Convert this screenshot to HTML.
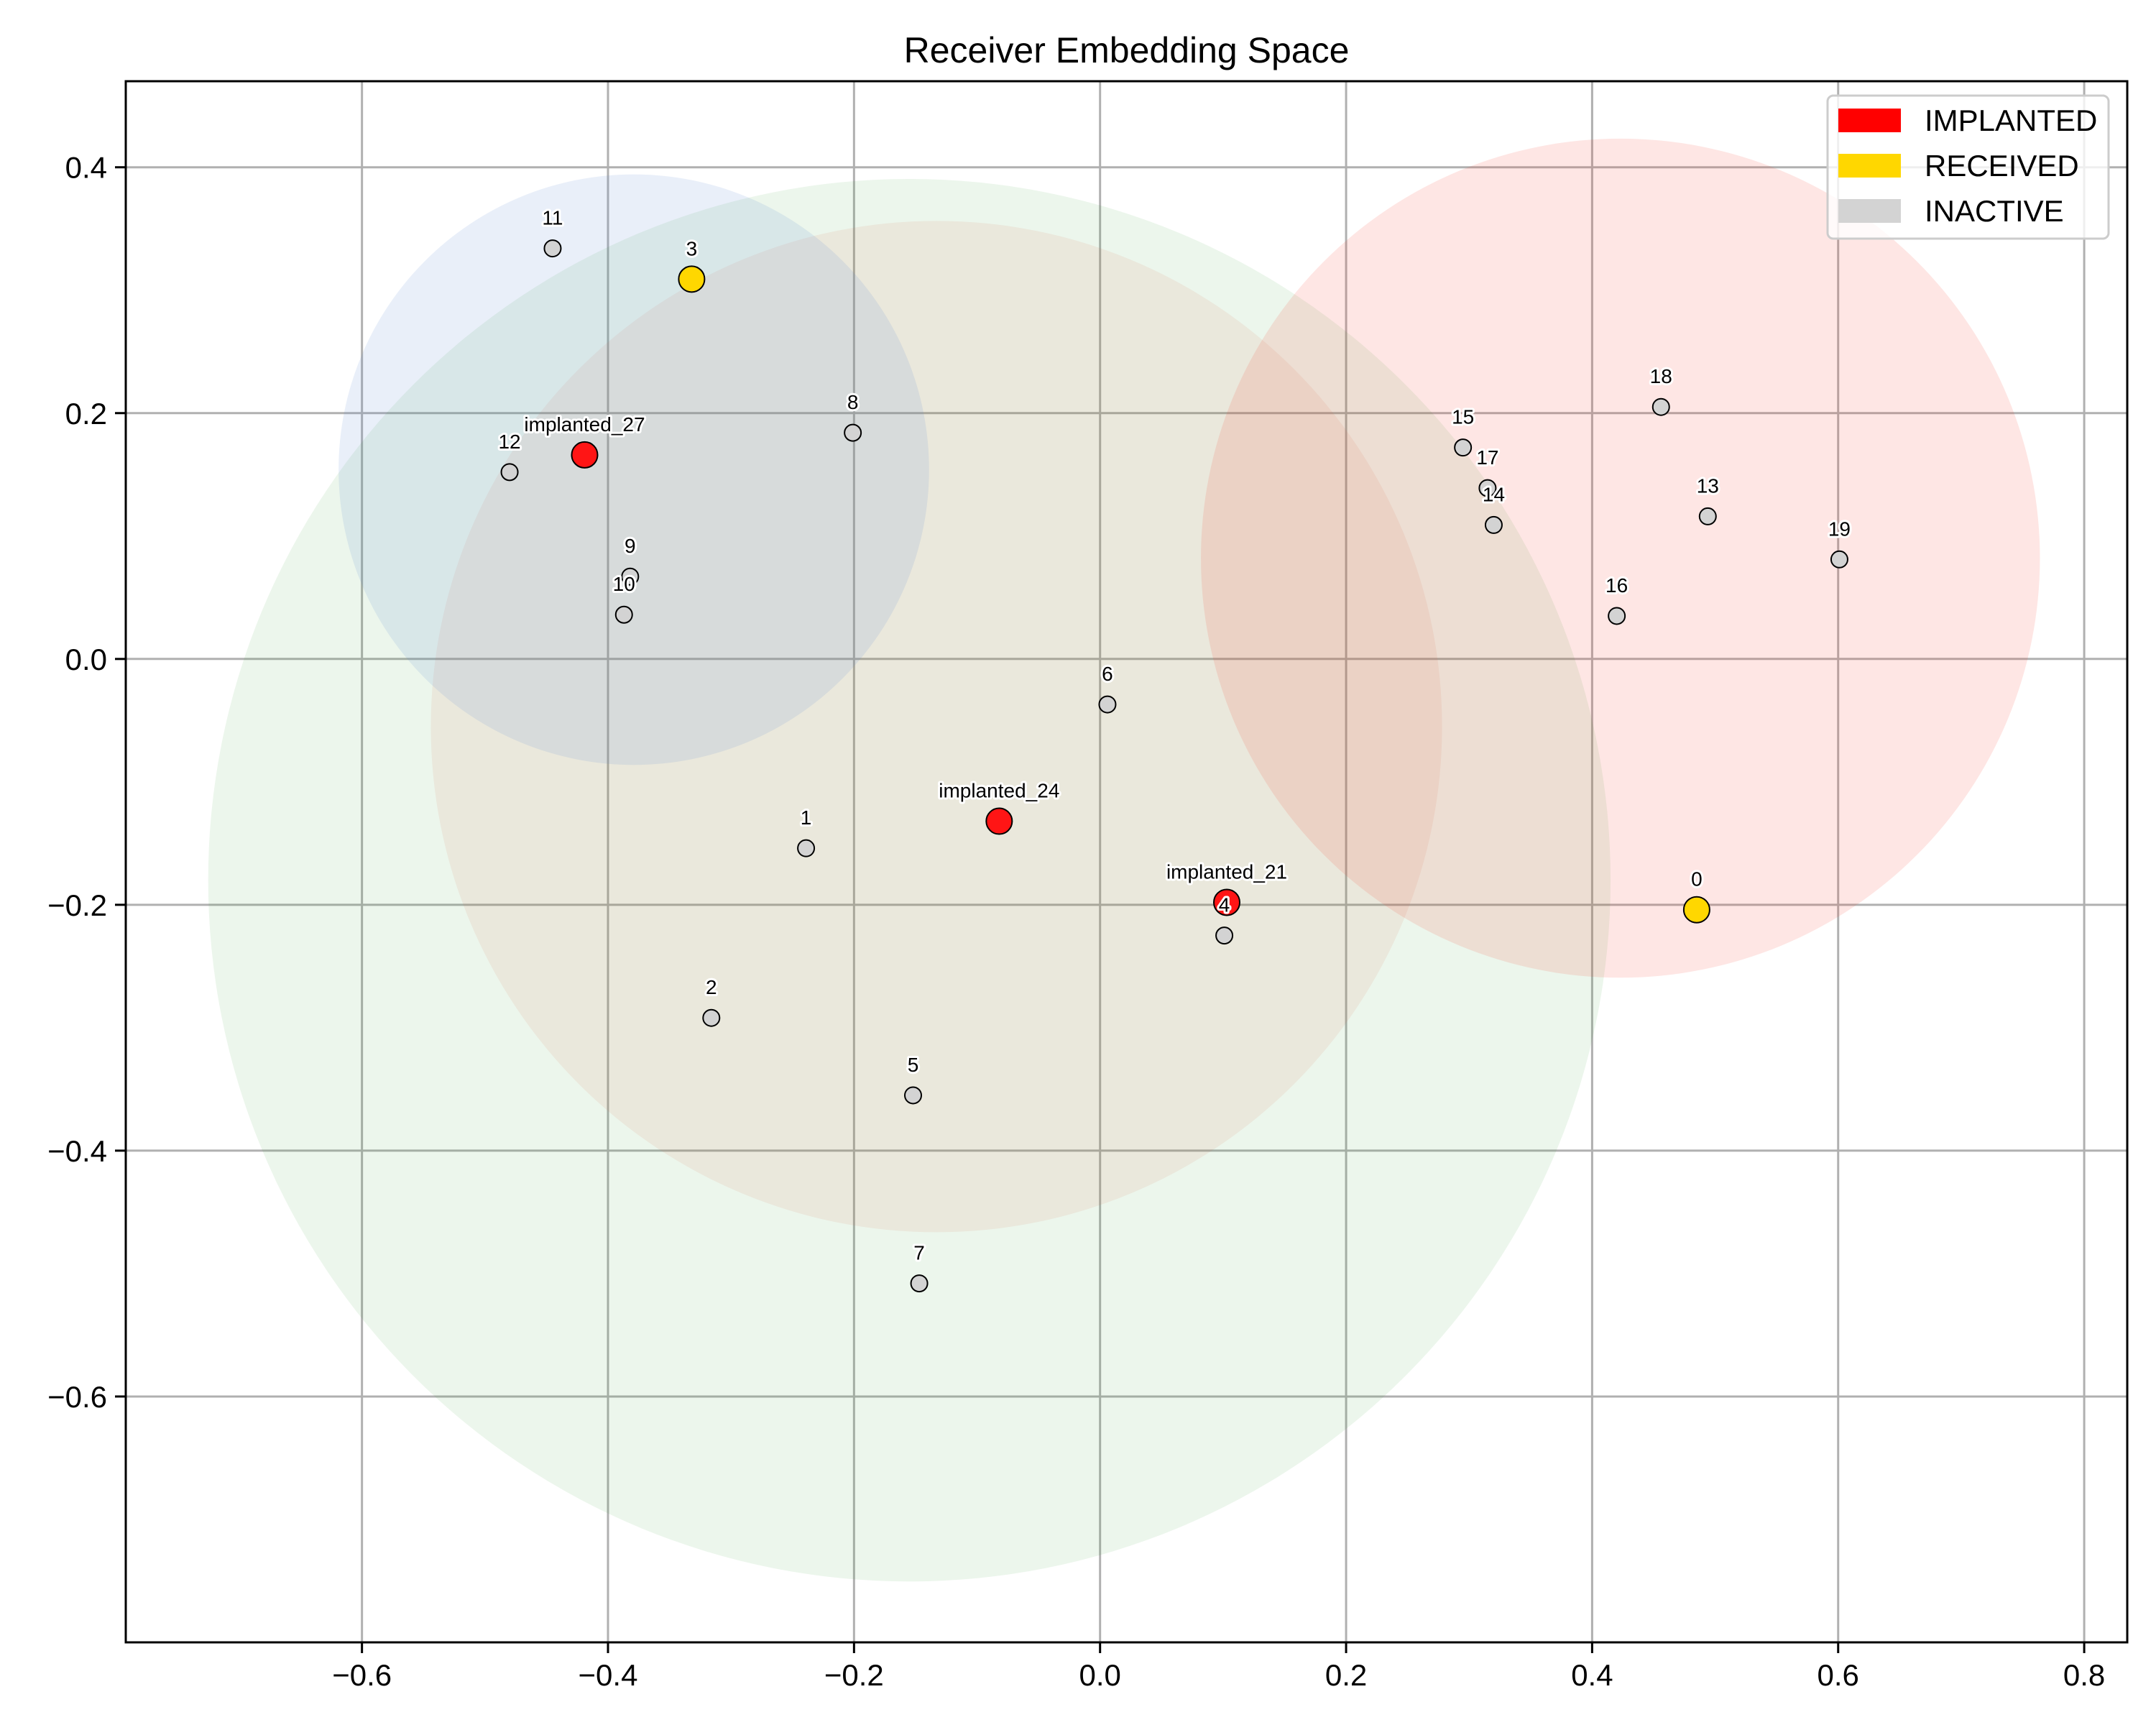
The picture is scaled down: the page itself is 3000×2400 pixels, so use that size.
<!DOCTYPE html>
<html><head><meta charset="utf-8"><style>
html,body{margin:0;padding:0;background:#fff;}
svg{display:block;font-family:"Liberation Sans","DejaVu Sans",sans-serif;}
.lbl{font-size:28px;text-anchor:middle;fill:#000;stroke:#fff;stroke-width:6px;paint-order:stroke;stroke-linejoin:round;}
</style></head><body>
<svg id="chart" width="3000" height="2400" viewBox="0 0 3000 2400"></svg>
<script>
const xTicks=[-0.6,-0.4,-0.2,0.0,0.2,0.4,0.6,0.8];
const yTicks=[0.4,0.2,0.0,-0.2,-0.4,-0.6];
const xTickLabels=["\u22120.6","\u22120.4","\u22120.2","0.0","0.2","0.4","0.6","0.8"];
const yTickLabels=["0.4","0.2","0.0","\u22120.2","\u22120.4","\u22120.6"];
const circleX=[-0.155,-0.133,-0.379,0.423];
const circleY=[-0.180,-0.055,0.154,0.082];
const circleR=[0.570,0.411,0.240,0.341];
const circleFill=["rgba(44,160,44,0.09)","rgba(215,105,75,0.10)","rgba(100,140,210,0.14)","rgba(245,60,50,0.13)"];
const pointNames=["11","3","8","implanted_27","12","9","10","6","1","implanted_24","implanted_21","4","2","5","7","15","17","14","18","13","19","16","0"];
const pointX=[-0.445,-0.332,-0.201,-0.419,-0.480,-0.382,-0.387,0.006,-0.239,-0.082,0.103,0.101,-0.316,-0.152,-0.147,0.295,0.315,0.320,0.456,0.494,0.601,0.420,0.485];
const pointY=[0.334,0.309,0.184,0.166,0.152,0.067,0.036,-0.037,-0.154,-0.132,-0.198,-0.225,-0.292,-0.355,-0.508,0.172,0.139,0.109,0.205,0.116,0.081,0.035,-0.204];
const pointType=["I","R","I","P","I","I","I","I","I","P","P","I","I","I","I","I","I","I","I","I","I","I","R"];

const L=175,R=2960,T=113,B=2285;
const xMin=-0.792,xMax=0.835,yMin=-0.800,yMax=0.47;
const sx=v=>L+(v-xMin)/(xMax-xMin)*(R-L);
const sy=v=>T+(yMax-v)/(yMax-yMin)*(B-T);
const pxPerUnit=(R-L)/(xMax-xMin);
const NS="http://www.w3.org/2000/svg";
const svg=document.getElementById('chart');
function mk(tag,attrs,parent){const e=document.createElementNS(NS,tag);for(const k in attrs)e.setAttribute(k,attrs[k]);(parent||svg).appendChild(e);return e;}

const clip=mk('clipPath',{id:'plotclip'});mk('rect',{x:L,y:T,width:R-L,height:B-T},clip);
const plot=mk('g',{'clip-path':'url(#plotclip)'});



xTicks.forEach((t,i)=>{const g=mk('line',{x1:sx(t),x2:sx(t),y1:T,y2:B,stroke:'#b0b0b0','stroke-width':3},plot);

});
yTicks.forEach((t,i)=>{const g=mk('line',{x1:L,x2:R,y1:sy(t),y2:sy(t),stroke:'#b0b0b0','stroke-width':3},plot);

});

circleX.forEach((cx,i)=>{const c=mk('circle',{cx:sx(cx),cy:sy(circleY[i]),r:circleR[i]*pxPerUnit,fill:circleFill[i]},plot);

});

const colors={I:'#d3d3d3',R:'#ffd700',P:'#ff1515'};
pointX.forEach((x,i)=>{const big=pointType[i]!=='I';
const c=mk('circle',{cx:sx(x),cy:sy(pointY[i]),r:big?18:11.5,fill:colors[pointType[i]],stroke:'#000','stroke-width':2},plot);

});
pointX.forEach((x,i)=>{const t=mk('text',{x:sx(x),y:sy(pointY[i])-33,class:'lbl'},plot);t.textContent=pointNames[i];

});

const sp=mk('rect',{x:L,y:T,width:R-L,height:B-T,fill:'none',stroke:'#000','stroke-width':3});



xTicks.forEach((t,i)=>{mk('line',{x1:sx(t),x2:sx(t),y1:B,y2:B+15,stroke:'#000','stroke-width':3});
const tx=mk('text',{x:sx(t),y:B+60,'font-size':42,'text-anchor':'middle'});tx.textContent=xTickLabels[i];

});
yTicks.forEach((t,i)=>{mk('line',{x1:L-15,x2:L,y1:sy(t),y2:sy(t),stroke:'#000','stroke-width':3});
const tx=mk('text',{x:L-26,y:sy(t)+15,'font-size':42,'text-anchor':'end'});tx.textContent=yTickLabels[i];

});

const title=mk('text',{x:(L+R)/2,y:87,'font-size':50,'text-anchor':'middle'});title.textContent='Receiver Embedding Space';



const lg=mk('g',{});


mk('rect',{x:2543,y:133,width:391,height:199,rx:8,fill:'rgba(255,255,255,0.8)',stroke:'#cccccc','stroke-width':3},lg);
const legNames=['IMPLANTED','RECEIVED','INACTIVE'];
const legCols=['#ff0000','#ffd700','#d3d3d3'];
legNames.forEach((n,i)=>{const y=151+i*63;
const r=mk('rect',{x:2558,y:y,width:87,height:33,fill:legCols[i]},lg);


const t=mk('text',{x:2678,y:y+31,'font-size':42},lg);t.textContent=n;

});
</script>
</body></html>
